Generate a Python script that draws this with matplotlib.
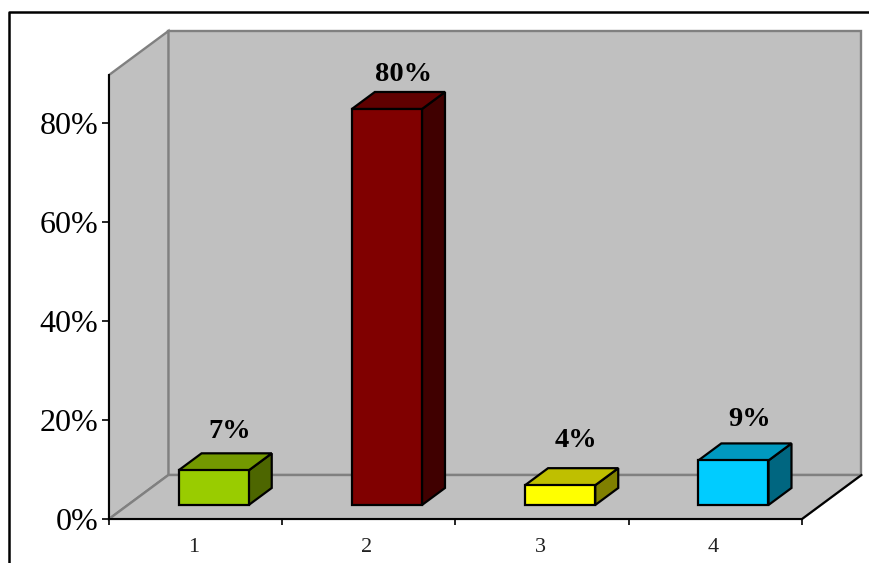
"""3D-style column chart with percentage labels, saved to out.png."""

import matplotlib
matplotlib.use("Agg")
import matplotlib.pyplot as plt
from matplotlib.lines import Line2D
from matplotlib.patches import Polygon
from matplotlib.transforms import ScaledTranslation

plt.rcParams["font.family"] = ["Liberation Serif", "DejaVu Serif"]

categories = ["1", "2", "3", "4"]
values = [7, 80, 4, 9]
y_ticks = [0, 20, 40, 60, 80]
y_tick_labels = ["0%", "20%", "40%", "60%", "80%"]
front_colors = ["#99CC00", "#800000", "#FFFF00", "#00CCFF"]
top_colors = ["#739900", "#600000", "#BFBF00", "#0099BF"]
side_colors = ["#4D6600", "#400000", "#808000", "#006680"]
label_lift = [15.5, 12.5, 19.8, 17]  # points above the bar's back edge

W, H = 870, 563
Y_MAX = 89.7
DEPTH_X = 0.343  # floor depth in category units
DEPTH_Y = 8.89  # floor depth in percent units
BAR_WIDTH = 0.405
BAR_SHIFT = -0.005
BAR_D0, BAR_D1 = 0.318, 0.705  # bar extent along the floor depth
WALL = "#C0C0C0"
EDGE = "#808080"


def proj(x, y, d):
    """Project a point at depth d (0 front, 1 back) onto the axes."""
    return (x + d * DEPTH_X, y + d * DEPTH_Y)


fig = plt.figure(figsize=(W / 100, H / 100), dpi=100, facecolor="white")
ax = fig.add_axes([109 / W, (H - 519) / H, 693 / W, 444 / H])
ax.set_xlim(0.5, 4.5)
ax.set_ylim(0, Y_MAX)
ax.patch.set_visible(False)

x0, x1 = 0.5, 4.5
walls = [
    [proj(x0, 0, 1), proj(x1, 0, 1), proj(x1, Y_MAX, 1), proj(x0, Y_MAX, 1)],
    [proj(x0, 0, 0), proj(x0, 0, 1), proj(x0, Y_MAX, 1), proj(x0, Y_MAX, 0)],
    [proj(x0, 0, 0), proj(x1, 0, 0), proj(x1, 0, 1), proj(x0, 0, 1)],
]
for wall in walls:
    ax.add_patch(Polygon(wall, closed=True, facecolor=WALL, edgecolor=EDGE,
                         linewidth=1.7, clip_on=False, zorder=1))
# right side of the floor is drawn in black
ax.plot(*zip(proj(x1, 0, 0), proj(x1, 0, 1)), color="black", linewidth=1.5,
        clip_on=False, zorder=2)

for i, val in enumerate(values):
    left = i + 1 + BAR_SHIFT - BAR_WIDTH / 2
    right = i + 1 + BAR_SHIFT + BAR_WIDTH / 2
    front = [proj(left, 0, BAR_D0), proj(right, 0, BAR_D0),
             proj(right, val, BAR_D0), proj(left, val, BAR_D0)]
    top = [proj(left, val, BAR_D0), proj(right, val, BAR_D0),
           proj(right, val, BAR_D1), proj(left, val, BAR_D1)]
    side = [proj(right, 0, BAR_D0), proj(right, 0, BAR_D1),
            proj(right, val, BAR_D1), proj(right, val, BAR_D0)]
    for pts, color in ((side, side_colors[i]), (top, top_colors[i]), (front, front_colors[i])):
        ax.add_patch(Polygon(pts, closed=True, facecolor=color, edgecolor="black",
                             linewidth=1.6, joinstyle="miter", clip_on=False, zorder=3))
    ax.annotate(f"{val}%", proj(i + 1, val, BAR_D1), xytext=(-5.5, label_lift[i]),
                textcoords="offset points", ha="center", va="center",
                fontsize=20.5, fontweight="bold", color="black", zorder=4)

for side_name in ("top", "right"):
    ax.spines[side_name].set_visible(False)
for side_name in ("left", "bottom"):
    ax.spines[side_name].set_linewidth(1.4)
    ax.spines[side_name].set_zorder(5)

ax.set_yticks(y_ticks)
ax.set_yticklabels(y_tick_labels, fontsize=23)
ax.tick_params(axis="y", direction="out", length=5, width=1.2, pad=2.5, color="black")

ax.set_xticks([0.5, 1.5, 2.5, 3.5, 4.5])
ax.set_xticklabels([])
ax.tick_params(axis="x", which="major", direction="out", length=4.5, width=1.2)
ax.set_xticks([1, 2, 3, 4], minor=True)
ax.set_xticklabels(categories, minor=True, fontsize=16, color="#222222")
ax.tick_params(axis="x", which="minor", length=0, pad=14)
# category numbers sit slightly left of each slot centre
nudge = ScaledTranslation(-1.5 / 72, 0, fig.dpi_scale_trans)
for lab in ax.get_xticklabels(minor=True):
    lab.set_transform(lab.get_transform() + nudge)

# outer frame: left and top only, running off the figure
frame_x = [9 / W, 9 / W, 1]
frame_y = [0, (H - 12) / H, (H - 12) / H]
fig.add_artist(Line2D(frame_x, frame_y, color="black", linewidth=1.8,
                      transform=fig.transFigure))

fig.savefig("out.png", dpi=100)
plt.close(fig)
